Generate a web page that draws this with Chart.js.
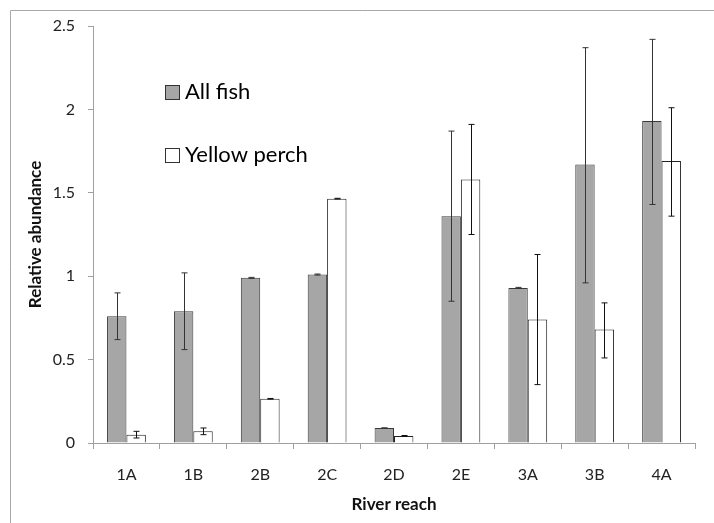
<!DOCTYPE html>
<html>
<head>
<meta charset="utf-8">
<script src="https://cdn.jsdelivr.net/npm/chart.js@4/dist/chart.umd.min.js"></script>
<style>
  body { margin: 0; background: #fff; }
  canvas { display: block; }
</style>
</head>
<body>
<canvas id="grafico" width="714" height="523"></canvas>
<script>
// dados
const categorias = ['1A', '1B', '2B', '2C', '2D', '2E', '3A', '3B', '4A'];
const allFish   = [0.76, 0.79, 0.99, 1.01, 0.09, 1.36, 0.93, 1.67, 1.93];
const allFishHi = [0.90, 1.02, 0.993, 1.013, 0.09, 1.87, 0.933, 2.37, 2.42];
const allFishLo = [0.62, 0.56, 0.987, 1.007, 0.09, 0.85, 0.927, 0.96, 1.43];
const perch   = [0.05, 0.07, 0.265, 1.465, 0.042, 1.58, 0.74, 0.68, 1.69];
const perchHi = [0.07, 0.09, 0.267, 1.467, 0.045, 1.91, 1.13, 0.84, 2.01];
const perchLo = [0.03, 0.05, 0.263, 1.463, 0.039, 1.25, 0.35, 0.51, 1.36];
const yTicks = [0, 0.5, 1, 1.5, 2, 2.5];

const fonte = 'Lato, "Open Sans", sans-serif';

// barras de erro desenhadas pelas escalas do gráfico
const errorBars = {
  id: 'errorBars',
  afterDatasetsDraw(chart) {
    const ctx = chart.ctx;
    const y = chart.scales.y;
    const limites = [[allFishHi, allFishLo], [perchHi, perchLo]];
    limites.forEach((lim, i) => {
      const meta = chart.getDatasetMeta(i);
      meta.data.forEach((bar, j) => {
        const top = y.getPixelForValue(lim[0][j]);
        const bot = y.getPixelForValue(lim[1][j]);
        const x = Math.round(bar.x) + 0.5;
        ctx.save();
        ctx.strokeStyle = i === 0 ? '#333' : '#111';
        ctx.lineWidth = 1;
        ctx.beginPath();
        ctx.moveTo(x, top);
        ctx.lineTo(x, bot);
        ctx.moveTo(x - 3, top);
        ctx.lineTo(x + 3, top);
        ctx.moveTo(x - 3, bot);
        ctx.lineTo(x + 3, bot);
        ctx.stroke();
        ctx.restore();
      });
    });
  }
};

// legenda dentro da área do gráfico + moldura
const extras = {
  id: 'extras',
  beforeDraw(chart) {
    const ctx = chart.ctx;
    ctx.save();
    ctx.strokeStyle = '#a8a8a8';
    ctx.lineWidth = 1;
    ctx.beginPath();
    ctx.moveTo(10.5, 523);
    ctx.lineTo(10.5, 10.5);
    ctx.lineTo(714, 10.5);
    ctx.stroke();
    ctx.restore();
  },
  afterDraw(chart) {
    const ctx = chart.ctx;
    const itens = [
      { label: 'All fish', fill: '#a6a6a6', y: 85 },
      { label: 'Yellow perch', fill: '#ffffff', y: 148 }
    ];
    ctx.save();
    itens.forEach(it => {
      ctx.fillStyle = it.fill;
      ctx.fillRect(165.5, it.y + 0.5, 14, 14);
      ctx.strokeStyle = '#333';
      ctx.lineWidth = 1;
      ctx.strokeRect(165.5, it.y + 0.5, 14, 14);
      ctx.fillStyle = '#000';
      ctx.font = '22px ' + fonte;
      ctx.textBaseline = 'middle';
      ctx.fillText(it.label, 185, it.y + 7);
    });
    ctx.restore();
  }
};

new Chart(document.getElementById('grafico'), {
  type: 'bar',
  data: {
    labels: categorias,
    datasets: [
      {
        label: 'All fish',
        data: allFish,
        backgroundColor: '#a6a6a6',
        borderColor: '#3a3a3a',
        borderWidth: 1,
        categoryPercentage: 0.58,
        barPercentage: 1
      },
      {
        label: 'Yellow perch',
        data: perch,
        backgroundColor: '#ffffff',
        borderColor: '#222',
        borderWidth: 1,
        categoryPercentage: 0.58,
        barPercentage: 1
      }
    ]
  },
  options: {
    responsive: false,
    animation: false,
    layout: { padding: { top: 26, right: 19, left: 0, bottom: 0 } },
    plugins: {
      legend: { display: false },
      tooltip: { enabled: false }
    },
    scales: {
      x: {
        grid: { drawOnChartArea: false, drawTicks: true, tickLength: 6, color: '#a0a0a0', offset: true },
        border: { color: '#a0a0a0' },
        ticks: { color: '#222', font: { family: fonte, size: 16 }, padding: 16 },
        title: {
          display: true, text: 'River reach', color: '#111',
          font: { family: fonte, size: 17, weight: 'bold' },
          padding: { top: 0, bottom: 8 }
        },
        afterFit(scale) { scale.height = 80; }
      },
      y: {
        min: 0, max: 2.5,
        afterBuildTicks(scale) { scale.ticks = yTicks.map(v => ({ value: v })); },
        grid: { drawOnChartArea: false, drawTicks: true, tickLength: 5, color: '#a0a0a0' },
        border: { color: '#a0a0a0' },
        ticks: {
          color: '#222', font: { family: fonte, size: 16 }, padding: 13,
          callback: v => String(v)
        },
        title: {
          display: true, text: 'Relative abundance', color: '#111',
          font: { family: fonte, size: 17, weight: 'bold' },
          padding: { top: 25, bottom: 0 }
        },
        afterFit(scale) { scale.width = 93; }
      }
    }
  },
  plugins: [errorBars, extras]
});
</script>
</body>
</html>
